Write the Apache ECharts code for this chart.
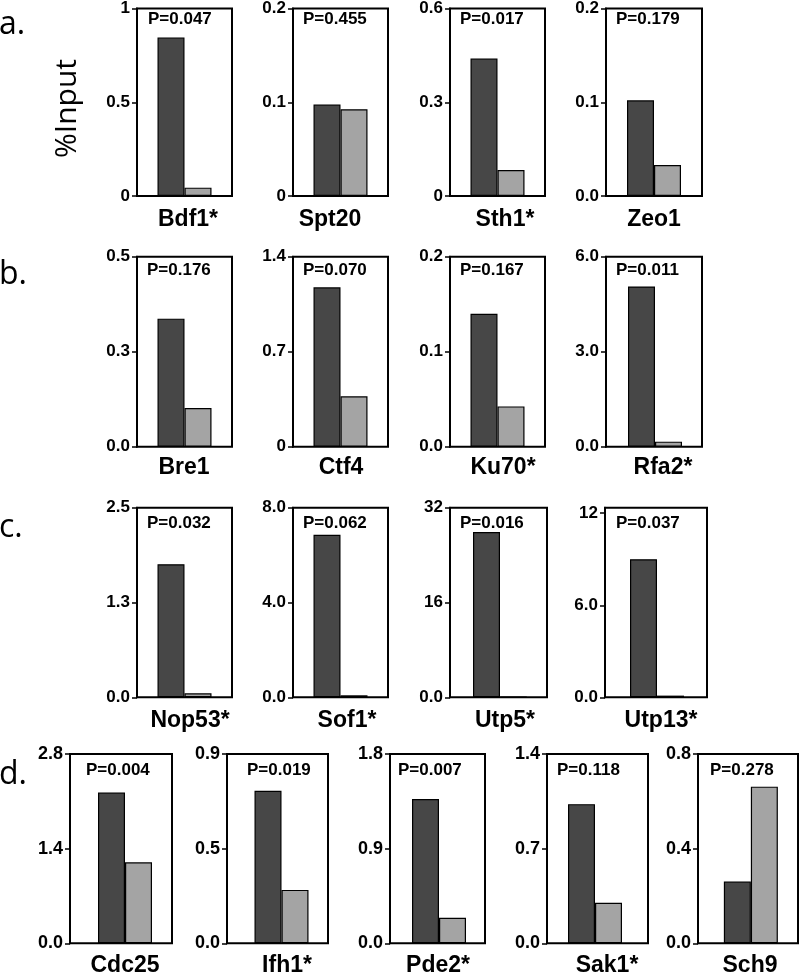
<!DOCTYPE html>
<html>
<head>
<meta charset="utf-8">
<script src="https://cdn.jsdelivr.net/npm/echarts@6/dist/echarts.min.js"></script>
<style>
html,body{margin:0;padding:0;background:#fff;}
#chart{width:800px;height:974px;}
</style>
</head>
<body>
<div id="chart"></div>
<script>
// ---- data ----
const genes = ['Bdf1*','Spt20','Sth1*','Zeo1','Bre1','Ctf4','Ku70*','Rfa2*','Nop53*','Sof1*','Utp5*','Utp13*','Cdc25','Ifh1*','Pde2*','Sak1*','Sch9'];
const darkValues  = [0.837, 0.0965, 0.435, 0.101, 0.337, 1.174, 0.140, 5.06, 1.755, 6.86, 27.9, 9.0, 2.23, 0.725, 1.371, 1.029, 0.261];
const lightValues = [0.044, 0.0916, 0.082, 0.0326, 0.102, 0.371, 0.0424, 0.16, 0.053, 0.085, 0.08, 0.11, 1.198, 0.254, 0.243, 0.30, 0.662];
const pLabels = ['P=0.047','P=0.455','P=0.017','P=0.179','P=0.176','P=0.070','P=0.167','P=0.011','P=0.032','P=0.062','P=0.016','P=0.037','P=0.004','P=0.019','P=0.007','P=0.118','P=0.278'];
const axisMax = [1, 0.2, 0.6, 0.2, 0.5, 1.4, 0.2, 6, 2.5, 8, 32, 12.36, 2.8, 0.9, 1.8, 1.4, 0.8];
const tickValues = [[0,0.5,1],[0,0.1,0.2],[0,0.3,0.6],[0,0.1,0.2],[0,0.25,0.5],[0,0.7,1.4],[0,0.1,0.2],[0,3,6],[0,1.25,2.5],[0,4,8],[0,16,32],[0,6,12],[0,1.4,2.8],[0,0.45,0.9],[0,0.9,1.8],[0,0.7,1.4],[0,0.4,0.8]];
const tickLabels = [['0','0.5','1'],['0','0.1','0.2'],['0','0.3','0.6'],['0.0','0.1','0.2'],['0.0','0.3','0.5'],['0','0.7','1.4'],['0.0','0.1','0.2'],['0.0','3.0','6.0'],['0.0','1.3','2.5'],['0.0','4.0','8.0'],['0.0','16','32'],['0.0','6.0','12'],['0.0','1.4','2.8'],['0.0','0.5','0.9'],['0.0','0.9','1.8'],['0.0','0.7','1.4'],['0.0','0.4','0.8']];
const rowLetters = ['a.','b.','c.','d.'];

// ---- layout ----
const rowOf = [0,0,0,0,1,1,1,1,2,2,2,2,3,3,3,3,3];
const rowTop = [6.5, 256.7, 507.7, 754];
const rowBottom = [196, 446.7, 697.3, 943.3];
const boxLeft  = [137,293,450,606, 137,293,450,606, 137,293,450,605, 70,227,390,547,698];
const boxRight = [232,388,545,702, 232,388,545,702, 232,388,547,707, 172,328,485,648,798];
const barShift = [0,0,0,0, 0,0,0,1, 0,0,1.5,1, 4,4,1.5,-2.5,3.7];
const pX = [148,303,460,616, 147,303,460,616, 147,303,460,616, 86,247,398,557,710];
const pY = [19.2, 270, 523.5, 770];
const labelX = [188,330,505,654, 184,341,503,663, 190,347,505,661, 125,287,438,607,750];
const labelY = [219.4, 467.4, 720.7, 965.7];
const letterY = [24.5, 274.5, 527.5, 774.5];
const tickFont = [17, 17, 17, 18];

const DARK = '#474747', LIGHT = '#a4a4a4';
const FONT = 'Liberation Sans';

const option = {animation:false, backgroundColor:'#fff', textStyle:{fontFamily:FONT}, grid:[], xAxis:[], yAxis:[], series:[], graphic:[]};

genes.forEach((g, i) => {
  const r = rowOf[i];
  const L = boxLeft[i], W = boxRight[i] - boxLeft[i];
  const top = rowTop[r], h = rowBottom[r] - rowTop[r];
  option.grid.push({left:L, top:top, width:W, height:h, show:true, borderColor:'#000', borderWidth:2, backgroundColor:'rgba(0,0,0,0)'});
  option.grid.push({left:L + barShift[i], top:top, width:W, height:h});
  option.xAxis.push({gridIndex:2*i, type:'category', data:[g], show:false});
  option.xAxis.push({gridIndex:2*i+1, type:'category', data:[g], show:false});
  const tv = tickValues[i], tl = tickLabels[i];
  option.yAxis.push({
    gridIndex:2*i, type:'value', min:0, max:axisMax[i], interval:tv[1],
    axisLine:{show:true, lineStyle:{color:'#000', width:2}},
    axisTick:{show:true, length:5, customValues:tv, lineStyle:{color:'#000', width:1.5}},
    axisLabel:{show:true, margin:7, color:'#000', fontSize:tickFont[r], fontWeight:'bold', fontFamily:FONT,
      showMinLabel:true, showMaxLabel:true, hideOverlap:false,
      formatter:(v) => { const k = tv.findIndex(t => Math.abs(t - v) < 1e-9); return k >= 0 ? tl[k] : ''; }},
    splitLine:{show:false}
  });
  option.yAxis.push({gridIndex:2*i+1, type:'value', min:0, max:axisMax[i], show:false, splitLine:{show:false}});
  option.series.push({type:'bar', xAxisIndex:2*i+1, yAxisIndex:2*i+1, data:[darkValues[i]], barWidth:27, barGap:'0%',
    itemStyle:{color:DARK, borderColor:'#000', borderWidth:1.2}, silent:true, z:3});
  option.series.push({type:'bar', xAxisIndex:2*i+1, yAxisIndex:2*i+1, data:[lightValues[i]], barWidth:27, barGap:'0%',
    itemStyle:{color:LIGHT, borderColor:'#000', borderWidth:1.2}, silent:true, z:3});
  option.graphic.push({type:'text', x:pX[i], y:pY[r], z:10,
    style:{text:pLabels[i], fontSize:17, fontWeight:'bold', fontFamily:FONT, fill:'#000', align:'left', verticalAlign:'middle'}});
  option.graphic.push({type:'text', x:labelX[i], y:labelY[r], z:10,
    style:{text:g, fontSize:23, fontWeight:'bold', fontFamily:FONT, fill:'#000', align:'center', verticalAlign:'middle'}});
});

rowLetters.forEach((t, r) => {
  option.graphic.push({type:'text', x:-1, y:letterY[r], z:10,
    style:{text:t, fontSize:32, fontFamily:'Open Sans', fill:'#000', align:'left', verticalAlign:'middle'}});
});
option.graphic.push({type:'text', x:67.5, y:108.5, rotation:Math.PI/2, z:10,
  style:{text:'%Input', fontSize:30, fontFamily:'Open Sans', fill:'#000', align:'center', verticalAlign:'middle'}});

const chart = echarts.init(document.getElementById('chart'), null, {renderer:'canvas'});
chart.setOption(option);
</script>
</body>
</html>
